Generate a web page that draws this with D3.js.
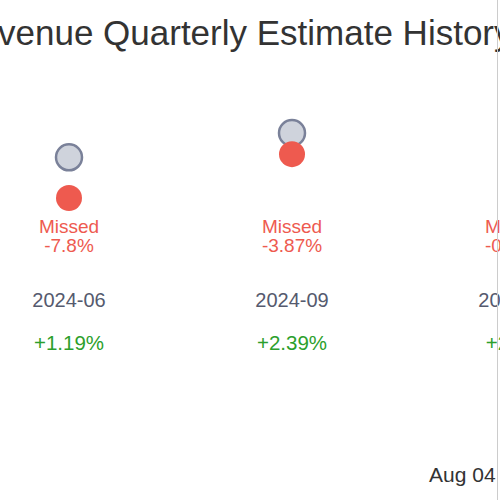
<!DOCTYPE html>
<html>
<head>
<meta charset="utf-8">
<script src="https://cdn.jsdelivr.net/npm/d3@7"></script>
<style>
  body { margin: 0; background: #fff; }
  text { font-family: "Liberation Sans", Arial, sans-serif; }
</style>
</head>
<body>
<svg id="chart"></svg>
<script>
let quarters = ["2024-06", "2024-09", "2024-12"];
let estimates = [98.5, 103.1, 106.0];
let actuals = [90.8, 99.1, 105.4];
let surprise = ["-7.8%", "-3.87%", "-0.57%"];
let yoyGrowth = ["+1.19%", "+2.39%", "+2.1%"];

let w = 500, h = 500;
let svg = d3.select("#chart").attr("width", w).attr("height", h);

let x = d3.scalePoint().domain(quarters).range([69, 515]);
let y = d3.scaleLinear().domain([90.8, 103.1]).range([198, 133]);

// title, partly cut off as in the original crop
let title = svg.append("text")
    .attr("y", 45)
    .attr("font-size", 35)
    .attr("fill", "#333")
    .text("Revenue Quarterly Estimate History");
let probe = svg.append("text").attr("font-size", 35).text("Re");
let off = probe.node().getComputedTextLength();
probe.remove();
title.attr("x", -off - 2);

let g = svg.append("g");

g.selectAll("circle.est")
    .data(quarters)
    .enter()
    .append("circle")
    .attr("class", "est")
    .attr("cx", d => x(d))
    .attr("cy", (d, i) => y(estimates[i]))
    .attr("r", 13)
    .style("fill", "#cfd3dc")
    .style("stroke", "#7a8199")
    .style("stroke-width", 2.5);

g.selectAll("circle.act")
    .data(quarters)
    .enter()
    .append("circle")
    .attr("class", "act")
    .attr("cx", d => x(d))
    .attr("cy", (d, i) => y(actuals[i]))
    .attr("r", 13)
    .style("fill", "#ee5a4f");

let cols = g.selectAll("g.col")
    .data(quarters)
    .enter()
    .append("g")
    .attr("transform", d => `translate(${x(d)},0)`)
    .attr("text-anchor", "middle")
    .attr("font-size", 19);

cols.append("text").attr("y", 233).attr("fill", "#ee5a4f").text("Missed");
cols.append("text").attr("y", 252).attr("fill", "#ee5a4f").text((d, i) => surprise[i]);
cols.append("text").attr("y", 307).attr("fill", "#555a6e").attr("font-size", 20).text(d => d);
cols.append("text").attr("y", 350).attr("fill", "#2ca02c").attr("font-size", 20.5).text((d, i) => yoyGrowth[i]);

svg.append("line")
    .attr("x1", 497.5).attr("x2", 497.5)
    .attr("y1", 0).attr("y2", h)
    .attr("stroke", "#ccc");

svg.append("text")
    .attr("x", 429)
    .attr("y", 482)
    .attr("font-size", 21)
    .attr("fill", "#333")
    .text("Aug 04");
</script>
</body>
</html>
